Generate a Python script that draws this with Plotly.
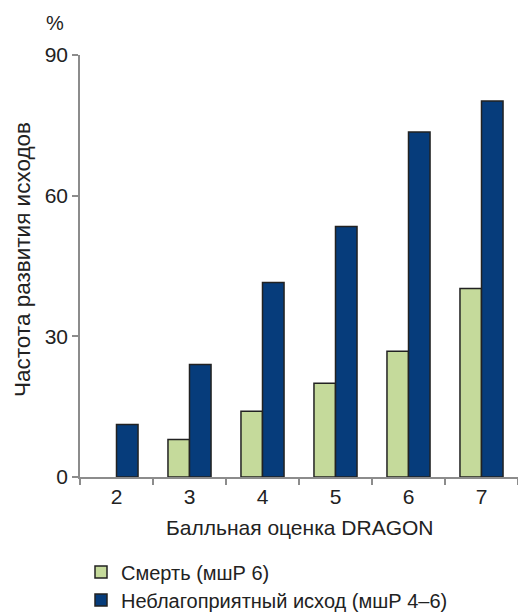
import plotly.graph_objects as go

categories = ["2", "3", "4", "5", "6", "7"]
death = [None, 8, 14, 20, 26.8, 40.2]  # no visible bar at score 2
unfavorable = [11.2, 24, 41.5, 53.4, 73.6, 80.2]
series_names = ["Смерть (мшР 6)", "Неблагоприятный исход (мшР 4–6)"]
y_ticks = [0, 30, 60, 90]

W, H = 518, 613
L, R, T, B = 80, 0, 55, 136
pw, ph = W - L - R, H - T - B

def px_x(px):
    return (px - L) / pw

def px_y(py):
    return (H - B - py) / ph

FONT = "Arial, Liberation Sans, sans-serif"
TXT = "#222222"

fig = go.Figure()
fig.add_trace(go.Bar(x=categories, y=death, name=series_names[0], legend="legend",
                     marker=dict(color="#c5da9b", line=dict(color="#222222", width=1.5))))
fig.add_trace(go.Bar(x=categories, y=unfavorable, name=series_names[1], legend="legend2",
                     marker=dict(color="#063c7b", line=dict(color="#222222", width=1.5))))

leg_common = dict(orientation="v", xanchor="left", yanchor="middle",
                  font=dict(size=20, family=FONT, color=TXT), bgcolor="rgba(0,0,0,0)")

fig.update_layout(
    width=W, height=H,
    margin=dict(l=L, r=R, t=T, b=B, autoexpand=False),
    paper_bgcolor="white", plot_bgcolor="white",
    barmode="group", bargap=0.41, bargroupgap=0,
    font=dict(family=FONT, size=21, color=TXT),
    showlegend=True,
    legend=dict(x=px_x(81), y=px_y(572), **leg_common),
    legend2=dict(x=px_x(81), y=px_y(600), **leg_common),
    xaxis=dict(type="category", showline=True, linecolor="#8c8c8c", linewidth=1.5,
               ticks="outside", tickson="boundaries", ticklen=6, tickcolor="#8c8c8c",
               tickwidth=1.5, showgrid=False, tickfont=dict(size=21), layer="above traces"),
    yaxis=dict(range=[0, 90], tickvals=y_ticks, showline=True, linecolor="#8c8c8c",
               linewidth=1.5, ticks="outside", ticklen=6, tickcolor="#8c8c8c", tickwidth=1.5,
               showgrid=False, zeroline=False, tickfont=dict(size=21)),
    annotations=[
        dict(text="%", x=px_x(55), y=px_y(23), xref="paper", yref="paper",
             xanchor="center", yanchor="middle", showarrow=False, font=dict(size=20)),
        dict(text="Частота развития исходов", x=px_x(22), y=px_y(260), xref="paper",
             yref="paper", xanchor="center", yanchor="middle", textangle=-90,
             showarrow=False, font=dict(size=22.5)),
        dict(text="Балльная оценка DRAGON", x=px_x(299), y=px_y(527), xref="paper",
             yref="paper", xanchor="center", yanchor="middle", showarrow=False,
             font=dict(size=21)),
    ],
)

fig.write_html("out.html", config={"displayModeBar": False})

with open("out.html", encoding="utf-8") as f:
    html = f.read()
html = html.replace("<head>", "<head><style>html,body{margin:0;padding:0;overflow:hidden}</style>", 1)
with open("out.html", "w", encoding="utf-8") as f:
    f.write(html)
